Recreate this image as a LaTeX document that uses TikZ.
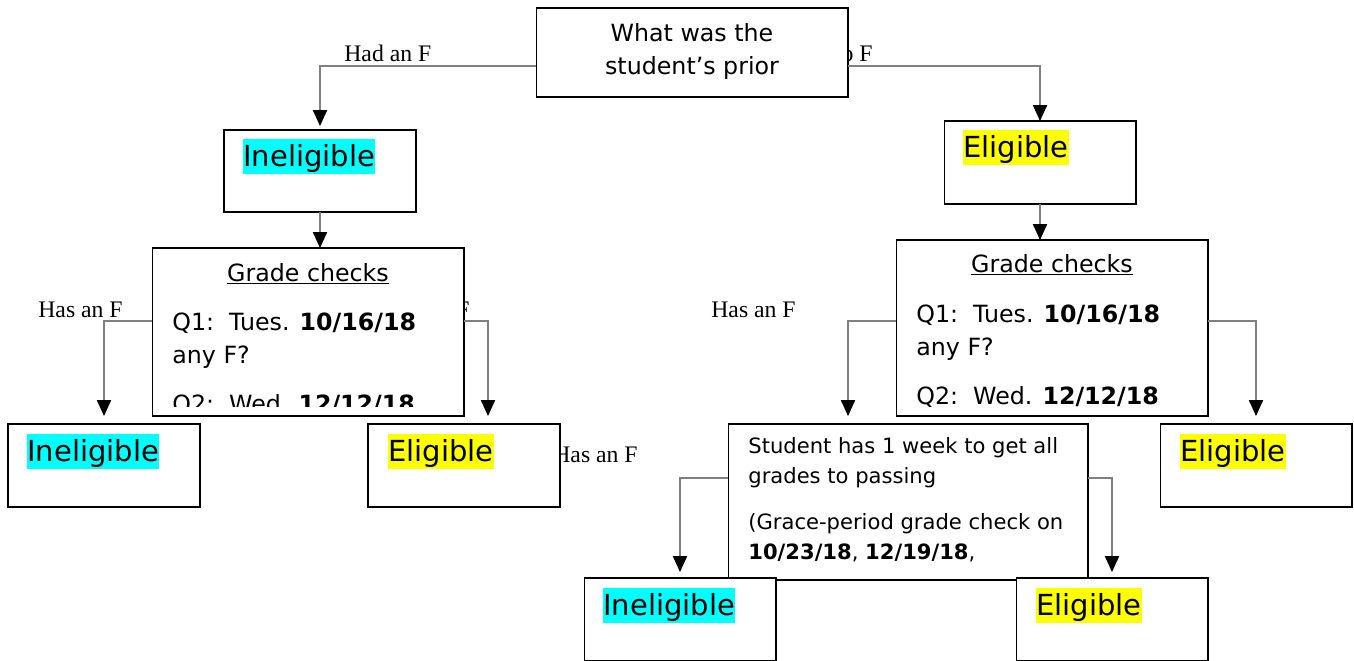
\documentclass[tikz,border=0pt]{standalone}
\usepackage{fontspec}
\setmainfont{DejaVu Sans}
\newfontfamily\labelfont{Liberation Serif}
\usepackage{tikz}
\usetikzlibrary{arrows.meta}
\usetikzlibrary{positioning}

\definecolor{hlcyan}{RGB}{0,255,255}
\definecolor{hlyellow}{RGB}{255,255,0}
\newcommand{\hilite}[2]{{\setlength{\fboxsep}{0pt}\colorbox{#1}{\rule[-4.4pt]{0pt}{20pt}#2}}}

\begin{document}
\begin{tikzpicture}[x=0.02cm,y=-0.02cm,
    box/.style={draw=black,fill=white,line width=0.6pt,inner sep=0pt,outer sep=0pt},
    small/.style={box,minimum width=3.84cm,minimum height=1.66cm},
    conn/.style={draw=gray,line width=0.8pt,-{Triangle[color=black,length=9pt,width=8pt]}},
    lbl/.style={font=\labelfont\fontsize{13.5}{16}\selectfont,inner sep=0pt},
    verdict/.style={inner sep=0pt,font=\fontsize{16.5}{20}\selectfont},
    txt/.style={inner sep=0pt,anchor=base west,font=\fontsize{13.5}{19}\selectfont},
    stxt/.style={inner sep=0pt,anchor=base west,font=\fontsize{12}{17}\selectfont}]
        \useasboundingbox (0,0) rectangle (1354,660);

            % Branch labels (partly hidden by the boxes)
            \node[lbl,anchor=base west] (had) at (344,61) {Had an F};
            \node[lbl,anchor=base east] (nof) at (873,61) {No F};
            \node[lbl,anchor=base west] (hasL) at (38,317) {Has an F};
            \node[lbl,anchor=base east] (nofL) at (470,317) {No F};
            \node[lbl,anchor=base west] (hasR) at (711,317) {Has an F};
            \node[lbl,anchor=base west] (hasS) at (553,462) {Has an F};

            % Question
            \node[box,minimum width=6.24cm,minimum height=1.78cm,align=center,
                  font=\fontsize{13.5}{19.3}\selectfont] (qbox) at (692,52.5)
                  {What was the\\student's prior\rule[-4pt]{0pt}{0pt}};

            % First verdicts
            \node[small,minimum height=1.64cm] (ineL) at (320,171) {};
            \node[verdict,below right=0.17cm and 0.38cm of ineL.north west] (ineLt) {\hilite{hlcyan}{Ineligible}};
            \node[small] (elR) at (1040,162.5) {};
            \node[verdict,below right=0.17cm and 0.38cm of elR.north west] (elRt) {\hilite{hlyellow}{Eligible}};

            % Grade checks
            \node[box,minimum width=6.24cm,minimum height=3.36cm] (gcL) at (308,332) {};
            \begin{scope}
                \clip (gcL.north west) rectangle ([yshift=0.18cm]gcL.south east);
                \node[txt,anchor=base] (gcLt) at ([shift={(0,33)}]gcL.north) {\underline{Grade checks}};
                \node[txt] (gcLa) at ([shift={(20,82)}]gcL.north west) {Q1:\ \ Tues. \textbf{10/16/18}};
                \node[txt] (gcLb) at ([shift={(20,115)}]gcL.north west) {any F?};
                \node[txt] (gcLc) at ([shift={(20,164)}]gcL.north west) {Q2:\ \ Wed. \textbf{12/12/18}};
            \end{scope}
            \node[box,minimum width=6.24cm,minimum height=3.52cm] (gcR) at (1052,328) {};
            \begin{scope}
                \clip (gcR.north west) rectangle ([yshift=0.18cm]gcR.south east);
                \node[txt,anchor=base] (gcRt) at ([shift={(0,32)}]gcR.north) {\underline{Grade checks}};
                \node[txt] (gcRa) at ([shift={(20,82)}]gcR.north west) {Q1:\ \ Tues. \textbf{10/16/18}};
                \node[txt] (gcRb) at ([shift={(20,115)}]gcR.north west) {any F?};
                \node[txt] (gcRc) at ([shift={(20,164)}]gcR.north west) {Q2:\ \ Wed. \textbf{12/12/18}};
            \end{scope}

            % Second verdicts
            \node[small] (inL2) at (104,465.5) {};
            \node[verdict,below right=0.19cm and 0.38cm of inL2.north west] (inL2t) {\hilite{hlcyan}{Ineligible}};
            \node[small] (elL2) at (464,465.5) {};
            \node[verdict,below right=0.19cm and 0.40cm of elL2.north west] (elL2t) {\hilite{hlyellow}{Eligible}};
            \node[small] (elR2) at (1256,465.5) {};
            \node[verdict,below right=0.19cm and 0.40cm of elR2.north west] (elR2t) {\hilite{hlyellow}{Eligible}};

            % Grace period
            \node[box,minimum width=7.2cm,minimum height=3.12cm] (stud) at (908,502) {};
            \node[stxt] (studa) at ([shift={(20,29)}]stud.north west) {Student has 1 week to get all};
            \node[stxt] (studb) at ([shift={(20,59)}]stud.north west) {grades to passing};
            \node[stxt] (studc) at ([shift={(20,105)}]stud.north west) {(Grace-period grade check on};
            \node[stxt] (studd) at ([shift={(20,135)}]stud.north west) {\textbf{10/23/18}, \textbf{12/19/18},};

            % Last verdicts
            \node[small] (inLow) at (680,619.5) {};
            \node[verdict,below right=0.19cm and 0.38cm of inLow.north west] (inLowt) {\hilite{hlcyan}{Ineligible}};
            \node[small] (elLow) at (1112,619.5) {};
            \node[verdict,below right=0.19cm and 0.40cm of elLow.north west] (elLowt) {\hilite{hlyellow}{Eligible}};

            % Connectors
            \draw[conn,shorten >=0.08cm] (qbox.west |- 0,66) -| (ineL.north);
            \draw[conn] (qbox.east |- 0,66) -| (elR.north);
            \draw[conn] (ineL.south) -- (ineL.south |- gcL.north);
            \draw[conn] (elR.south) -- (elR.south |- gcR.north);
            \draw[conn,shorten >=0.16cm] (gcL.west |- 0,321) -| (inL2.north);
            \draw[conn,shorten >=0.16cm] (gcL.east |- 0,321) -| ([xshift=0.48cm]elL2.north);
            \draw[conn,shorten >=0.16cm] (gcR.west |- 0,321) -| ([xshift=-1.2cm]stud.north);
            \draw[conn,shorten >=0.16cm] (gcR.east |- 0,321) -| (elR2.north);
            \draw[conn,shorten >=0.12cm] (stud.west |- 0,478) -| (inLow.north);
            \draw[conn,shorten >=0.12cm] (stud.east |- 0,478) -| (elLow.north);

        \end{tikzpicture}
\end{document}
